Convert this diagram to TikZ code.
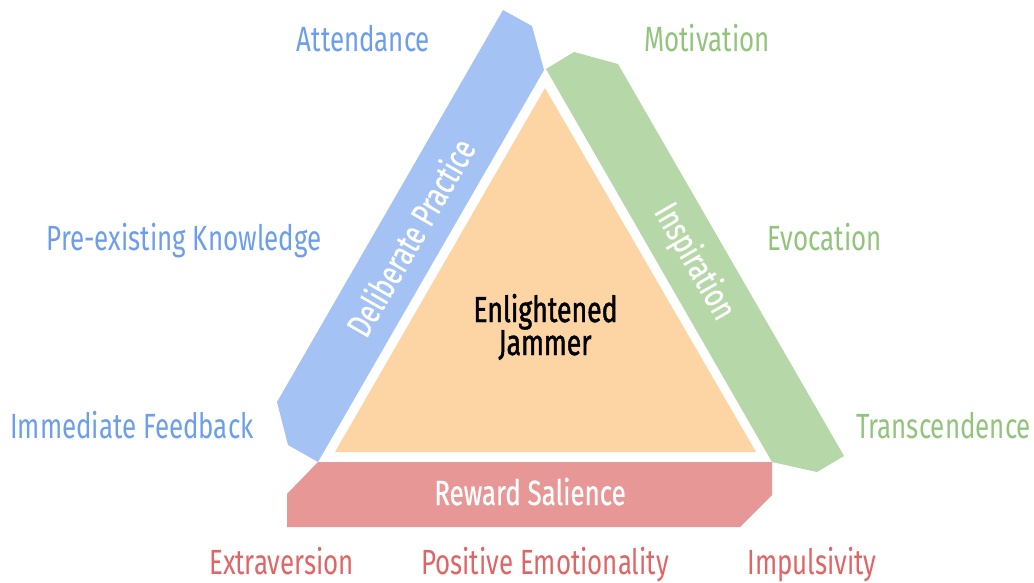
\documentclass[tikz,border=0pt]{standalone}
\usepackage{fontspec}
\setmainfont{Fira Sans}[FakeStretch=0.74]
\definecolor{bandblue}{HTML}{A4C2F4}
\definecolor{bandgreen}{HTML}{B6D7A8}
\definecolor{bandred}{HTML}{E89797}
\definecolor{coreorange}{HTML}{FDD5A5}
\definecolor{txtblue}{HTML}{6D9EEB}
\definecolor{txtgreen}{HTML}{93C47D}
\definecolor{txtred}{HTML}{E06666}
\begin{document}
\begin{tikzpicture}[x=1pt,y=-1pt,
  lbl/.style={font=\fontsize{35}{40}\selectfont, inner sep=0pt, anchor=base},
  bandtext/.style={font=\fontsize{35}{40}\selectfont\addfontfeatures{FakeBold=0.6}, inner sep=0pt, text=white},
  coretext/.style={font=\fontsize{36}{40}\selectfont\addfontfeatures{FakeBold=1.2}, inner sep=0pt, anchor=base, text=black}]
\useasboundingbox (0,0) rectangle (1034,582);
\fill[white] (0,0) rectangle (1034,582);

% central triangle
\fill[coreorange] (545,88) -- (756,452) -- (335,452) -- cycle;
% three bands around it
\fill[bandblue] (503,10) -- (532,26) -- (544,70) -- (318,462) -- (288,445) -- (277,402) -- cycle;
\fill[bandgreen] (546,69) -- (574,52) -- (618,64) -- (844,456) -- (817,472) -- (772,462) -- cycle;
\fill[bandred] (318,462) -- (772,462) -- (772,495) -- (740,527) -- (287,527) -- (287,494) -- cycle;

% band titles
\node[bandtext, rotate=60] (practice) at (410,237) {Deliberate Practice};
\node[bandtext, rotate=-60] (inspiration) at (694,262) {Inspiration};
\node[bandtext, anchor=base] (reward) at (530,505) {Reward Salience};

% centre
\node[coretext] (core1) at (545.5,322) {Enlightened};
\node[coretext] (core2) at (545,355) {Jammer};

% blue factors
\node[lbl, text=txtblue] (attendance) at (363.5,51) {Attendance};
\node[lbl, text=txtblue] (knowledge) at (184,250) {Pre-existing Knowledge};
\node[lbl, text=txtblue] (feedback) at (132,438) {Immediate Feedback};

% green factors
\node[lbl, text=txtgreen] (motivation) at (707,51) {Motivation};
\node[lbl, text=txtgreen] (evocation) at (824.5,250) {Evocation};
\node[lbl, text=txtgreen] (transcendence) at (943.5,438) {Transcendence};

% red factors
\node[lbl, text=txtred] (extraversion) at (281.5,574) {Extraversion};
\node[lbl, text=txtred] (emotionality) at (545,574) {Positive Emotionality};
\node[lbl, text=txtred] (impulsivity) at (812,574) {Impulsivity};
\end{tikzpicture}
\end{document}
